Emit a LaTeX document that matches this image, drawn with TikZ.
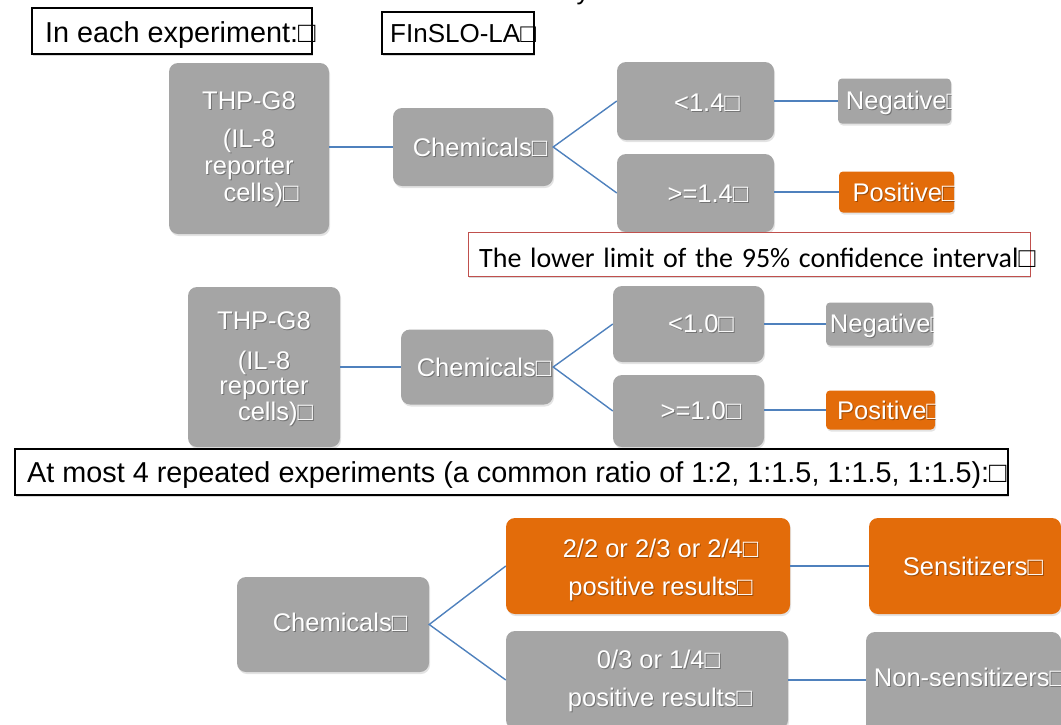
\documentclass[tikz,border=0pt]{standalone}
\usepackage{fontspec}
\setmainfont{Liberation Sans}
\newfontfamily\carl{Carlito}
\usetikzlibrary{shadows}
\definecolor{gfill}{RGB}{165,165,165}
\definecolor{ofill}{RGB}{227,108,10}
\definecolor{lblue}{RGB}{79,129,189}
\definecolor{rline}{RGB}{192,80,77}
\newcommand\tofu{{\rmfamily □}}
\newcommand\gp{\hspace{8.7pt}}
\tikzset{
  gbox/.style={fill=gfill, draw=none, rounded corners=9pt, inner sep=0pt,
    drop shadow={opacity=0.22, shadow xshift=1pt, shadow yshift=-2pt}},
  gsmall/.style={gbox, rounded corners=4pt},
  obox/.style={gbox, fill=ofill},
  osmall/.style={gsmall, fill=ofill},
  lbox/.style={draw=black, line width=1.2pt, fill=white, inner sep=0pt,
    drop shadow={opacity=0.3, shadow xshift=1pt, shadow yshift=-2pt}},
  rbox/.style={lbox, draw=rline, line width=1pt},
  wtxt/.style={anchor=base, inner sep=0pt, text=white, font=\fontsize{25.5}{30}\selectfont},
  btxt/.style={anchor=base west, inner sep=0pt, text=black, font=\fontsize{28.8}{34}\selectfont},
  conn/.style={draw=lblue, line width=1.4pt},
}
\newcommand\bx[6]{\node[#1, minimum width=#5pt, minimum height=#6pt] (#2) at (#3,#4) {};}
\newcommand\wt[4]{%
  \node[wtxt, text=black, opacity=0.3] at (#2+1,#3+1.2) {#4};
  \node[wtxt] (#1) at (#2,#3) {#4};}
% white text clipped to its box
\newcommand\wtc[5]{%
  \begin{scope}
    \clip (#5.south west) rectangle (#5.north east);
    \wt{#1}{#2}{#3}{#4}
  \end{scope}}
\begin{document}
\begin{tikzpicture}[x=1pt, y=-1pt]
\useasboundingbox (0,0) rectangle (1061,724);
% ---------- block 1 ----------
\bx{gbox}{thp1}{249}{148.5}{160}{171}
\bx{gbox}{chem1}{473}{147}{160}{78}
\bx{gbox}{lt1}{695.5}{101}{157}{78}
\bx{gbox}{ge1}{695.5}{193}{157}{78}
\bx{gsmall}{neg1}{894.5}{101}{113}{45}
\bx{osmall}{pos1}{896.5}{192}{115}{41}
% ---------- block 2 ----------
\bx{gbox}{thp2}{264}{367}{152}{160}
\bx{gbox}{chem2}{477}{367}{152}{75}
\bx{gbox}{lt2}{688.5}{324}{151}{76}
\bx{gbox}{ge2}{688.5}{411}{151}{72}
\bx{gsmall}{neg2}{879.5}{324}{107}{43}
\bx{osmall}{pos2}{880.5}{410}{109}{39}
% ---------- block 3 ----------
\bx{gbox}{chem3}{333}{624.5}{192}{95}
\bx{obox}{org}{648}{566}{284}{96}
\bx{gbox}{gry}{647}{680}{282}{98}
\bx{obox}{sens}{965}{566}{192}{96}
\bx{gbox}{nsens}{963.5}{683.5}{195}{103}
% ---------- outlined label boxes ----------
\bx{lbox}{lab1}{172}{31}{280}{46}
\bx{lbox}{lab2}{458}{33}{152}{42}
\bx{rbox}{lab3}{749}{254}{562}{44}
\bx{lbox}{lab4}{511.5}{472}{993}{46}
% ---------- connectors ----------
\draw[conn] (thp1.east |- chem1.west) -- (chem1.west);
\draw[conn] (lt1.west) -- (chem1.east) -- (ge1.west);
\draw[conn] (lt1.east) -- (lt1.east -| neg1.west);
\draw[conn] (ge1.east |- pos1.west) -- (pos1.west);
\draw[conn] (thp2.east |- chem2.west) -- (chem2.west);
\draw[conn] (lt2.west) -- (chem2.east) -- (ge2.west);
\draw[conn] (lt2.east) -- (lt2.east -| neg2.west);
\draw[conn] (ge2.east |- pos2.west) -- (pos2.west);
\draw[conn] (org.west) -- (chem3.east) -- (gry.west);
\draw[conn] (org.east) -- (sens.west);
\draw[conn] (gry.east) -- (gry.east -| nsens.west);
% ---------- black texts ----------
\node[btxt] (t1) at (45,42) {In each experiment:\tofu};
\node[btxt, font=\fontsize{26}{30}\selectfont] (t2) at (390,42.5) {FInSLO-LA\tofu};
\node[anchor=base, inner sep=0pt, font=\fontsize{26}{30}\selectfont] (cut) at (583,-1) {y};
\node[btxt, font=\carl\fontsize{28}{32}\selectfont] (t3) at (479,267)
  {The\gp lower\gp limit\gp of\gp the\gp 95\%\gp confidence\gp interval\tofu};
\node[btxt] (t4) at (27,482) {At most 4 repeated experiments (a common ratio of 1:2, 1:1.5, 1:1.5, 1:1.5):\tofu};
% ---------- white texts ----------
\wt{a1}{249}{109}{THP-G8}
\wt{a2}{249}{147}{(IL-8}
\wt{a3}{249}{174}{reporter}
\wt{a4}{261}{201}{cells)\tofu}
\wt{c1}{480}{156}{Chemicals\tofu}
\wt{l1}{707}{111}{<1.4\tofu}
\wt{g1}{708}{202}{>=1.4\tofu}
\wtc{n1}{904}{109}{Negative\tofu}{neg1}
\wtc{p1}{905}{201}{Positive\tofu}{pos1}
\wt{b1}{264}{329}{THP-G8}
\wt{b2}{264}{369}{(IL-8}
\wt{b3}{264}{394}{reporter}
\wt{b4}{275.5}{420}{cells)\tofu}
\wt{c2}{484}{376}{Chemicals\tofu}
\wt{l2}{701}{332}{<1.0\tofu}
\wt{g2}{701}{419}{>=1.0\tofu}
\wtc{n2}{888}{332}{Negative\tofu}{neg2}
\wtc{p2}{889.5}{419}{Positive\tofu}{pos2}
\wt{c3}{340}{631}{Chemicals\tofu}
\wt{o1}{660.5}{557}{2/2 or 2/3 or 2/4\tofu}
\wt{o2}{660.5}{595}{positive results\tofu}
\wt{r1}{658.5}{668}{0/3 or 1/4\tofu}
\wt{r2}{660}{706}{positive results\tofu}
\wt{s1}{973}{575}{Sensitizers\tofu}
\wtc{s2}{969.5}{686}{Non-sensitizers\tofu}{nsens}
\end{tikzpicture}
\end{document}
